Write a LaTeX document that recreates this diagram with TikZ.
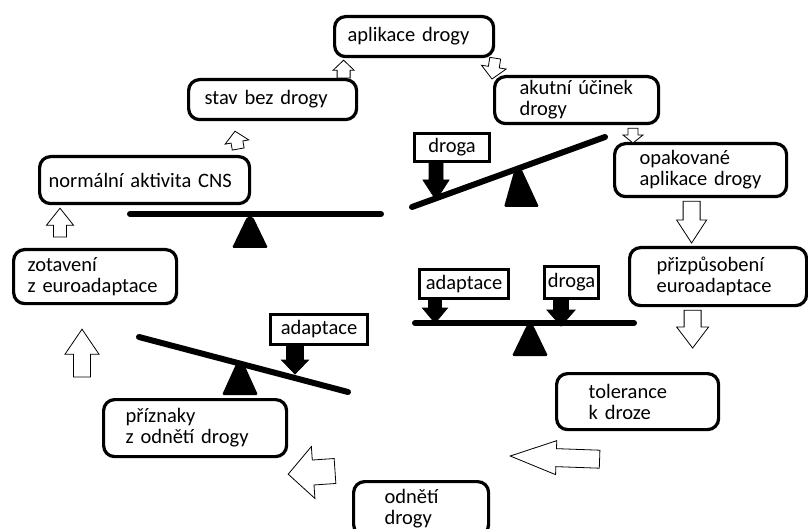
\documentclass[tikz,border=0pt]{standalone}
\usepackage{fontspec}
\setmainfont{Carlito}
\usetikzlibrary{positioning,calc}

% hollow or solid block arrow from tail #2 to tip #3
% #4 half shaft, #5 half head, #6 head length (pt)
\newcommand{\blockarrow}[6][hollow]{%
  \path[#1] let \p1=(#2), \p2=(#3),
      \n1={veclen(\x2-\x1,\y2-\y1)},
      \n2={(\x2-\x1)/\n1}, \n3={(\y2-\y1)/\n1} in
    ({\x1-#4*(\n3)},{\y1+#4*(\n2)})
    -- ({\x2-#6*(\n2)-#4*(\n3)},{\y2-#6*(\n3)+#4*(\n2)})
    -- ({\x2-#6*(\n2)-#5*(\n3)},{\y2-#6*(\n3)+#5*(\n2)})
    -- (\p2)
    -- ({\x2-#6*(\n2)+#5*(\n3)},{\y2-#6*(\n3)-#5*(\n2)})
    -- ({\x2-#6*(\n2)+#4*(\n3)},{\y2-#6*(\n3)-#4*(\n2)})
    -- ({\x1+#4*(\n3)},{\y1-#4*(\n2)}) -- cycle;}

\begin{document}
\begin{tikzpicture}[x=1pt,y=-1pt,
  stage/.style={draw,line width=3.2pt,rounded corners=11pt,anchor=north west,align=left,
    inner ysep=0pt,font=\fontsize{20.5}{21}\selectfont},
  load/.style={draw,line width=3pt,anchor=north west,inner sep=0pt,font=\fontsize{20.5}{21}\selectfont},
  beam/.style={line width=6pt,line cap=round},
  pivot/.style={fill=black,rounded corners=1.5pt},
  hollow/.style={draw,fill=white,line width=0.8pt},
  solid/.style={draw,fill=black,line width=0.8pt}
]
  \useasboundingbox (0,0) rectangle (808,529);
  \fill[white] (0,0) rectangle (808,529);
  \clip (0,0) rectangle (808,529);

  % stages of the cycle
  \node[stage,minimum width=159pt,minimum height=40pt,text width=133pt,inner xsep=13pt] (apl) at (333,15) {aplikace drogy};
  \node[stage,minimum width=168pt,minimum height=40pt,text width=136pt,inner xsep=16pt] (stav) at (187,78) {stav bez drogy};
  \node[stage,minimum width=164pt,minimum height=47pt,text width=114pt,inner xsep=25pt] (akut) at (493,75) {akutní účinek\\drogy};
  \node[stage,minimum width=210pt,minimum height=47pt,text width=192pt,inner xsep=9pt] (norm) at (38,155) {normální aktivita CNS};
  \node[stage,minimum width=172pt,minimum height=53pt,text width=122pt,inner xsep=25pt] (opak) at (613,142) {opakované\\aplikace drogy};
  \node[stage,minimum width=163pt,minimum height=54pt,text width=135pt,inner xsep=14pt] (zot) at (12,248) {zotavení\\z euroadaptace};
  \node[stage,minimum width=177pt,minimum height=58pt,text width=123pt,inner xsep=27pt] (prizp) at (628,246) {přizpůsobení\\euroadaptace};
  \node[stage,minimum width=162pt,minimum height=56pt,text width=98pt,inner xsep=32pt] (tol) at (555,372) {tolerance\\k droze};
  \node[stage,minimum width=183pt,minimum height=57pt,text width=139pt,inner xsep=22pt] (prizn) at (102,398) {příznaky\\z odnětí drogy};
  \node[stage,minimum width=135pt,minimum height=54pt,text width=73pt,inner xsep=31pt] (odn) at (352,480) {odnětí\\drogy};

  % cycle arrows
  \blockarrow{$(stav.north)+(71,0)$}{$(apl.south)+(-70.5,2)$}{6.5}{10.5}{10}
  \blockarrow{apl.south east}{$(akut.north west)+(-1,4)$}{5.5}{12.5}{12}
  \blockarrow{$(akut.south west)+(140,3)$}{$(opak.north west)+(20,1)$}{5}{10}{8}
  \blockarrow{$(opak.south)+(-9,3)$}{$(prizp.north)+(-26.5,-3)$}{8.5}{15}{23}
  \blockarrow{$(prizp.south)+(-25.5,3)$}{$(tol.north)+(55,-24)$}{8.5}{16}{21}
  \blockarrow{$(tol.south)+(-38,28)$}{$(odn.north east)+(20,-24)$}{9}{17}{46}
  \blockarrow{$(odn.north west)+(-17,-9)$}{$(prizn.south east)+(0,16)$}{12.5}{26}{25}
  \blockarrow{$(prizn.north west)+(-20,-21)$}{$(zot.south west)+(70,24)$}{8.5}{17}{25}
  \blockarrow{$(zot.north west)+(48,-11)$}{$(norm.south west)+(22,3)$}{6.5}{13.5}{17}
  \blockarrow{$(norm.north east)+(-13,-6)$}{$(stav.south west)+(48,10)$}{6}{12}{11}

  % seesaw: no drug, level
  \draw[beam] (130,214) -- (381,214);
  \fill[pivot] (247,217) -- (253,217) -- (268,248) -- (232,248) -- cycle;

  % seesaw: drug, tilted
  \draw[beam] (412,207) -- (605,137);
  \fill[pivot] (515,168) -- (521,168) -- (539,207) -- (504,207) -- cycle;
  \node[load,minimum width=75pt,minimum height=28pt] (dr1) at (413,132) {droga};
  \blockarrow[solid]{$(dr1.south west)+(23,0)$}{$(dr1.south west)+(23,37)$}{7}{13}{20}

  % seesaw: adaptation and drug, level
  \draw[beam] (415,323) -- (634,323);
  \fill[pivot] (527,325) -- (533,325) -- (548,356) -- (512,356) -- cycle;
  \node[load,minimum width=89pt,minimum height=29pt] (ad1) at (418,268) {adaptace};
  \node[load,minimum width=54pt,minimum height=32pt] (dr2) at (543,265) {droga};
  \blockarrow[solid]{$(ad1.south west)+(17,0)$}{$(ad1.south west)+(17,23)$}{6.5}{12.5}{15}
  \blockarrow[solid]{$(dr2.south west)+(18,0)$}{$(dr2.south west)+(18,26)$}{7.5}{14}{16}

  % seesaw: adaptation only, tilted
  \draw[beam] (139,337) -- (348,392);
  \fill[pivot] (237,362) -- (243,362) -- (258,395) -- (222,395) -- cycle;
  \node[load,minimum width=97pt,minimum height=30pt] (ad2) at (269,313) {adaptace};
  \blockarrow[solid]{$(ad2.south west)+(26,0)$}{$(ad2.south west)+(26,28)$}{8.5}{13.5}{14}
\end{tikzpicture}
\end{document}
